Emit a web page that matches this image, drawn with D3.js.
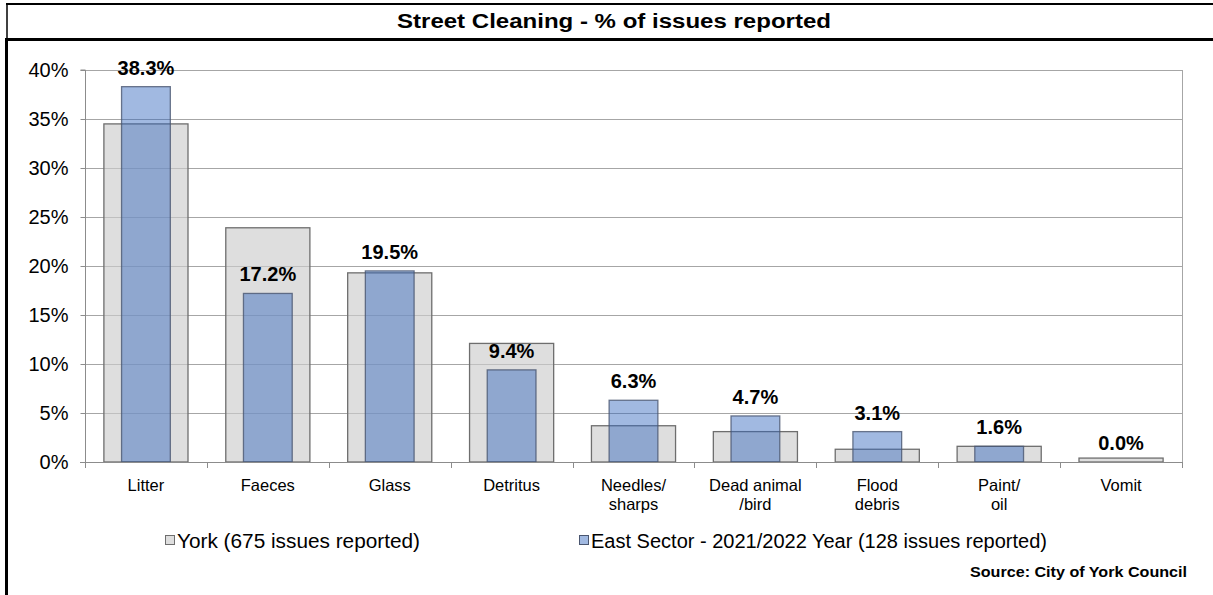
<!DOCTYPE html>
<html><head><meta charset="utf-8">
<script src="https://cdn.jsdelivr.net/npm/d3@7"></script>
<style>body{margin:0;background:#fff;}svg{display:block;font-family:Arial,"Liberation Sans",sans-serif;}</style>
</head><body>
<svg id="c" width="1213" height="595"></svg>
<script>
const categories = ["Litter","Faeces","Glass","Detritus","Needles/\nsharps","Dead animal\n/bird","Flood\ndebris","Paint/\noil","Vomit"];
const yorkValues = [34.5, 23.9, 19.3, 12.1, 3.7, 3.1, 1.3, 1.6, 0.4];
const eastValues = [38.3, 17.2, 19.5, 9.4, 6.3, 4.7, 3.1, 1.6, 0.0];
const yTicks = [0,5,10,15,20,25,30,35,40];
const seriesNames = ["York (675 issues reported)","East Sector - 2021/2022 Year (128 issues reported)"];
const title = "Street Cleaning - % of issues reported";
const source = "Source: City of York Council";

const svg = d3.select("#c");
const L = 85, R = 1182, T = 70, B = 462;
const x = d3.scaleBand().domain(categories).range([L, R]).padding(0);
const y = d3.scaleLinear().domain([0, 40]).range([B, T]);

// frame
svg.append("line").attr("x1",6).attr("x2",1213).attr("y1",4).attr("y2",4).attr("stroke","#000").attr("stroke-width",2);
svg.append("line").attr("x1",7).attr("x2",7).attr("y1",4).attr("y2",39).attr("stroke","#000").attr("stroke-width",1.5);
svg.append("line").attr("x1",5).attr("x2",1213).attr("y1",39.5).attr("y2",39.5).attr("stroke","#000").attr("stroke-width",3);
svg.append("line").attr("x1",6.5).attr("x2",6.5).attr("y1",38).attr("y2",595).attr("stroke","#000").attr("stroke-width",3);

svg.append("text").attr("x",614).attr("y",28).attr("text-anchor","middle")
  .attr("font-weight","bold").attr("font-size",20).attr("fill","#000")
  .attr("textLength",434).attr("lengthAdjust","spacingAndGlyphs").text(title);

// gridlines
svg.append("g").selectAll("line").data(yTicks.filter(d=>d>0)).join("line")
  .attr("x1",L).attr("x2",R).attr("y1",d=>Math.round(y(d))+0.5).attr("y2",d=>Math.round(y(d))+0.5)
  .attr("stroke","#a6a6a6").attr("stroke-width",1);
// right border
svg.append("line").attr("x1",R+0.5).attr("x2",R+0.5).attr("y1",T).attr("y2",B).attr("stroke","#a6a6a6");

// York bars
const yw = x.bandwidth()*0.69, bw = x.bandwidth()*0.40;
svg.append("g").selectAll("rect").data(categories).join("rect")
  .attr("x",(d)=>x(d)+(x.bandwidth()-yw)/2)
  .attr("width",yw)
  .attr("y",(d,i)=>y(yorkValues[i]))
  .attr("height",(d,i)=>B-y(yorkValues[i]))
  .attr("fill","rgb(205,205,205)").attr("fill-opacity",0.65)
  .attr("stroke","#6e6e6e").attr("stroke-width",1.3);
// East bars
svg.append("g").selectAll("rect").data(categories).join("rect")
  .attr("x",(d)=>x(d)+(x.bandwidth()-bw)/2)
  .attr("width",bw)
  .attr("y",(d,i)=>y(eastValues[i]))
  .attr("height",(d,i)=>B-y(eastValues[i]))
  .attr("fill","rgb(48,101,189)").attr("fill-opacity",0.455)
  .attr("stroke","#4a5670").attr("stroke-width",1.3).attr("stroke-opacity",0.8);

// y axis
const ya = d3.axisLeft(y).tickValues(yTicks).tickSize(5).tickPadding(12).tickFormat(d=>d+"%");
const yg = svg.append("g").attr("transform",`translate(${L+0.5},0)`).call(ya);
yg.select(".domain").attr("stroke","#8c8c8c").attr("d",`M-5,${T}H0V${B}`);
yg.selectAll(".tick line").attr("stroke","#8c8c8c");
yg.selectAll(".tick text").attr("font-size",20).attr("font-family","Arial, 'Liberation Sans', sans-serif").attr("fill","#000");

// x axis line & boundary ticks
svg.append("line").attr("x1",L-5).attr("x2",R).attr("y1",B+0.5).attr("y2",B+0.5).attr("stroke","#8c8c8c");
const bounds = categories.map(c=>x(c)).concat([R]);
svg.append("g").selectAll("line").data(bounds).join("line")
  .attr("x1",d=>Math.round(d)+0.5).attr("x2",d=>Math.round(d)+0.5).attr("y1",B).attr("y2",B+6)
  .attr("stroke","#8c8c8c");

// category labels
svg.append("g").selectAll("text").data(categories).join("text")
  .attr("x",d=>x(d)+x.bandwidth()/2).attr("y",B+29).attr("text-anchor","middle")
  .attr("font-size",16.5).attr("fill","#000")
  .each(function(d){
    const lines = d.split("\n");
    d3.select(this).selectAll("tspan").data(lines).join("tspan")
      .attr("x",x(d)+x.bandwidth()/2).attr("dy",(l,i)=>i?19:0).text(l=>l);
  });

// value labels
svg.append("g").selectAll("text").data(categories).join("text")
  .attr("x",d=>x(d)+x.bandwidth()/2).attr("y",(d,i)=>y(eastValues[i])-12)
  .attr("text-anchor","middle").attr("font-weight","bold").attr("font-size",20).attr("fill","#000")
  .text((d,i)=>eastValues[i].toFixed(1)+"%");

// legend
const legX = [165, 579];
const legLen = [243, 456];
const leg = svg.append("g");
leg.append("rect").attr("x",legX[0]+0.5).attr("y",535.5).attr("width",9).attr("height",9)
  .attr("fill","#dedede").attr("stroke","#6e6e6e").attr("stroke-width",1);
leg.append("rect").attr("x",legX[1]+0.5).attr("y",535.5).attr("width",9).attr("height",9)
  .attr("fill","rgb(161,185,225)").attr("stroke","#4a5670").attr("stroke-width",1);
leg.selectAll("text").data(seriesNames).join("text")
  .attr("x",(d,i)=>legX[i]+12).attr("y",548).attr("font-size",20).attr("fill","#000")
  .attr("textLength",(d,i)=>legLen[i]).attr("lengthAdjust","spacingAndGlyphs").text(d=>d);

svg.append("text").attr("x",1187).attr("y",577).attr("text-anchor","end")
  .attr("font-weight","bold").attr("font-size",14).attr("fill","#000")
  .attr("textLength",217).attr("lengthAdjust","spacingAndGlyphs").text(source);
</script>
</body></html>
